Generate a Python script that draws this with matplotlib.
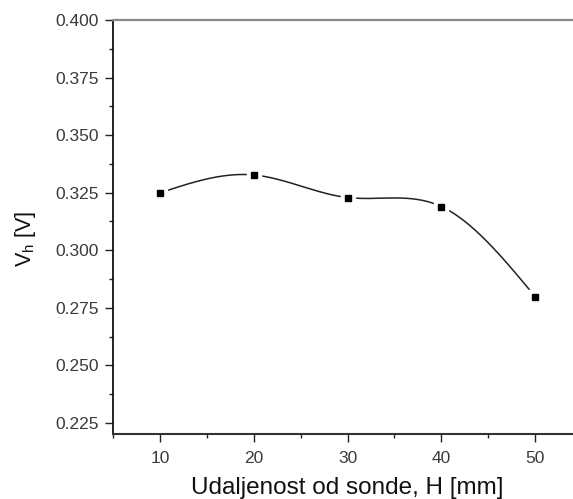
import numpy as np
import matplotlib
matplotlib.use("Agg")
import matplotlib.pyplot as plt
from matplotlib.ticker import MultipleLocator

plt.rcParams['font.family'] = ['Liberation Sans', 'DejaVu Sans']

distance_mm = [10, 20, 30, 40, 50]
voltage_v = [0.3249, 0.3327, 0.3229, 0.3190, 0.2799]
x_ticks = [10, 20, 30, 40, 50]
y_ticks = [0.225, 0.250, 0.275, 0.300, 0.325, 0.350, 0.375, 0.400]


def natural_cubic_spline(x, y, xs):
    x = np.asarray(x, float); y = np.asarray(y, float)
    n = len(x)
    h = np.diff(x)
    A = np.zeros((n, n)); b = np.zeros(n)
    A[0, 0] = 1; A[-1, -1] = 1
    for i in range(1, n - 1):
        A[i, i - 1] = h[i - 1]
        A[i, i] = 2 * (h[i - 1] + h[i])
        A[i, i + 1] = h[i]
        b[i] = 3 * ((y[i + 1] - y[i]) / h[i] - (y[i] - y[i - 1]) / h[i - 1])
    c = np.linalg.solve(A, b)
    out = np.empty_like(xs)
    for k, xv in enumerate(xs):
        i = min(max(np.searchsorted(x, xv) - 1, 0), n - 2)
        dx = xv - x[i]
        bi = (y[i + 1] - y[i]) / h[i] - h[i] * (2 * c[i] + c[i + 1]) / 3
        di = (c[i + 1] - c[i]) / (3 * h[i])
        out[k] = y[i] + bi * dx + c[i] * dx ** 2 + di * dx ** 3
    return out


fig = plt.figure(figsize=(5.73, 4.99), dpi=100)
ax = fig.add_axes([113 / 573, 65 / 499, 469 / 573, 414 / 499])

xs = np.linspace(min(distance_mm), max(distance_mm), 400)
ax.plot(xs, natural_cubic_spline(distance_mm, voltage_v, xs), color='#222222', lw=1.1, zorder=2)
ax.plot(distance_mm, voltage_v, ls='none', marker='s', ms=10, color='white', zorder=3)
ax.plot(distance_mm, voltage_v, ls='none', marker='s', ms=5, color='black', zorder=4)

ax.set_xlim(5, 55)
ax.set_ylim(0.2202, 0.400)
ax.set_xticks(x_ticks)
ax.set_yticks(y_ticks)
ax.xaxis.set_minor_locator(MultipleLocator(5))
ax.yaxis.set_minor_locator(MultipleLocator(0.0125))
ax.set_xticklabels([str(v) for v in x_ticks])
ax.set_yticklabels([f"{v:.3f}" for v in y_ticks])
ax.tick_params(which='major', direction='out', length=6, width=1, color='#222222',
               labelsize=12.5, labelcolor='#3a3a3a')
ax.tick_params(axis='y', which='major', pad=4)
ax.tick_params(axis='x', which='major', pad=6)
ax.tick_params(which='minor', direction='out', length=3, width=1, color='#222222')
ax.tick_params(top=False, right=False, which='both')

ax.spines['left'].set_color('#111111'); ax.spines['left'].set_linewidth(1.3)
ax.spines['bottom'].set_color('#333333'); ax.spines['bottom'].set_linewidth(1.5)
ax.spines['top'].set_color('#888888'); ax.spines['top'].set_linewidth(1.6)
ax.spines['right'].set_visible(False)

ax.set_xlabel('Udaljenost od sonde, H [mm]', fontsize=17.5, labelpad=8, color='#111111')
ax.set_ylabel('V$_\\mathregular{h}$ [V]', fontsize=15.5, color='#111111')
ax.yaxis.set_label_coords(-0.16, 0.471)

fig.savefig('out.png', dpi=100)
